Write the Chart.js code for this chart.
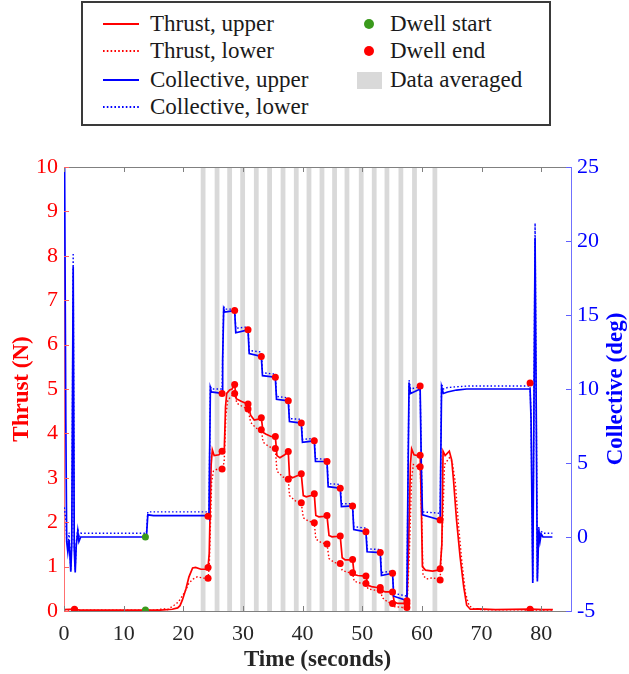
<!DOCTYPE html>
<html><head><meta charset="utf-8">
<script src="https://cdn.jsdelivr.net/npm/chart.js@4/dist/chart.umd.min.js"></script>
<style>
html,body{margin:0;padding:0;background:#fff;}
#wrap{position:relative;width:629px;height:674px;overflow:hidden;}
#c{position:absolute;left:0;top:0;}
#legend{position:absolute;left:81px;top:1px;width:470px;height:125px;box-sizing:border-box;border:2px solid #3a3a3a;background:#fff;font-family:'Liberation Serif','Times New Roman',serif;font-size:23px;color:#1a1a1a;}
.tx{position:absolute;line-height:26px;white-space:nowrap;}
.sw{position:absolute;}
</style></head>
<body>
<div id="wrap">
<canvas id="c" width="629" height="674"></canvas>
<div id="legend"></div>
</div>
<script>
// ---------------- DATA ----------------
const xTicks = [0,10,20,30,40,50,60,70,80];
const thrustTicks = [0,1,2,3,4,5,6,7,8,9,10];
const collTicks = [-5,0,5,10,15,20,25];

// [time (s), thrust (N)]
const thrustUpper = [[0,0.03],[1.76,0.04],[2.6,0.02],[16.14,0.02],[18.15,0.04],[19.05,0.07],[19.45,0.12],[19.85,0.25],[20.45,0.5],[20.95,0.77],[21.56,0.97],[22.06,0.98],[22.96,0.94],[24.06,0.94],[24.15,0.98],[24.35,1.3],[24.67,3.3],[24.87,3.63],[25.17,3.5],[25.97,3.52],[26.5,3.6],[26.88,3.65],[27.08,4.6],[27.28,4.9],[27.78,4.98],[28.18,5.0],[28.61,5.1],[28.88,4.78],[29.78,4.72],[30.85,4.66],[31.29,4.41],[31.89,4.3],[32.59,4.32],[33.08,4.35],[33.39,4.02],[33.9,3.98],[34.7,3.93],[35.43,3.93],[35.7,3.5],[36.2,3.45],[37.0,3.52],[37.6,3.59],[37.8,3.05],[38.3,3.0],[39.2,3.05],[39.78,3.09],[40.12,2.6],[40.62,2.57],[41.42,2.6],[41.96,2.64],[42.22,2.15],[42.73,2.12],[43.53,2.13],[44.09,2.15],[44.43,1.7],[44.93,1.67],[45.74,1.68],[46.31,1.69],[46.64,1.2],[47.14,1.15],[47.85,1.15],[48.38,1.16],[48.65,0.82],[49.25,0.8],[50.05,0.79],[50.62,0.79],[50.96,0.58],[51.56,0.55],[52.46,0.53],[53.02,0.53],[53.37,0.45],[53.87,0.43],[54.57,0.43],[55.08,0.43],[55.37,0.2],[55.97,0.17],[56.87,0.17],[57.49,0.17],[57.78,1.5],[58.08,3.3],[58.28,3.65],[58.68,3.52],[59.28,3.5],[59.71,3.51],[59.89,2.5],[60.09,1.0],[60.59,0.92],[61.8,0.9],[62.7,0.92],[63.06,0.95],[63.35,1.5],[63.55,3.6],[63.9,3.5],[64.6,3.6],[65.0,3.4],[65.3,2.95],[65.81,2.05],[66.41,1.22],[67.01,0.55],[67.51,0.13],[68.11,0.04],[69.32,0.05],[72.33,0.03],[78.14,0.04],[80.36,0.03],[81.96,0.03]];

const thrustLower = [[0,0.02],[2.6,0.02],[15.1,0.02],[16.75,0.05],[17.35,0.03],[18.45,0.13],[19.15,0.2],[19.65,0.3],[20.35,0.45],[20.95,0.63],[21.66,0.72],[22.36,0.77],[23.36,0.74],[24.15,0.74],[24.35,1.0],[24.75,2.9],[25.05,3.15],[25.75,3.2],[26.5,3.2],[26.85,3.35],[27.15,4.4],[27.45,4.75],[28.15,4.85],[28.61,4.9],[28.98,4.68],[29.98,4.6],[30.85,4.55],[31.29,4.25],[32.2,4.12],[33.08,4.08],[33.39,3.8],[34.4,3.7],[35.43,3.66],[35.7,3.15],[36.7,3.02],[37.6,2.97],[37.8,2.6],[38.8,2.48],[39.78,2.44],[40.12,2.1],[41.02,2.02],[41.96,1.99],[42.22,1.62],[43.23,1.53],[44.09,1.51],[44.43,1.18],[45.34,1.09],[46.31,1.07],[46.64,0.92],[47.54,0.87],[48.38,0.86],[48.65,0.67],[49.65,0.63],[50.62,0.62],[50.96,0.5],[52.06,0.47],[53.02,0.47],[53.37,0.3],[54.27,0.2],[55.08,0.17],[55.37,0.1],[56.77,0.08],[57.49,0.08],[57.88,1.2],[58.28,3.0],[58.58,3.3],[59.28,3.25],[59.71,3.25],[59.99,2.0],[60.19,0.8],[60.79,0.72],[61.8,0.75],[63.06,0.7],[63.49,2.0],[63.8,3.3],[64.6,3.45],[65.1,3.35],[65.6,2.9],[66.1,2.0],[66.71,1.1],[67.31,0.4],[67.91,0.12],[68.82,0.04],[70.32,0.03],[81.96,0.02]];

// [time (s), collective (deg)]
const collUpper = [[0.1,25],[0.3,8],[0.45,-0.3],[0.64,-1.0],[0.85,-0.2],[1.14,-2.35],[1.3,-0.5],[1.54,18.3],[1.72,-0.8],[1.88,-2.4],[2.05,-0.6],[2.31,0.4],[2.5,-0.3],[2.8,0],[13.65,0],[13.85,0.2],[14.05,1.5],[15,1.45],[24.15,1.45],[24.3,1.3],[24.54,10.05],[24.7,9.8],[26.5,9.7],[26.6,12],[26.77,15.4],[26.95,15.2],[28.61,15.3],[28.8,13.8],[30.85,14.0],[31.05,12.4],[33.08,12.2],[33.28,10.9],[35.43,10.8],[35.63,9.3],[37.6,9.2],[37.8,7.8],[39.78,7.7],[39.98,6.4],[41.96,6.5],[42.16,5.1],[44.09,5.1],[44.29,3.4],[46.31,3.3],[46.51,2.05],[48.38,2.1],[48.58,0.5],[50.62,0.35],[50.82,-1.0],[53.02,-1.05],[53.22,-2.6],[55.08,-2.45],[55.28,-4.0],[57.49,-4.3],[57.65,3],[57.85,10.4],[58.1,9.7],[59.71,10.0],[59.9,5],[60.1,1.5],[63.06,1.15],[63.3,10.15],[63.6,9.7],[64.3,9.8],[65.8,9.93],[67.5,10.0],[78.14,10.0],[78.3,8],[78.59,-3.1],[78.98,20.2],[79.36,-3.0],[79.6,0.5],[79.8,-0.3],[80.0,0.2],[80.3,0],[81.88,0]];

const collLower = [[0.05,2],[0.3,1.2],[0.45,-0.2],[0.64,-0.6],[0.85,0.3],[1.14,-2.2],[1.3,-0.2],[1.54,19.2],[1.72,-0.5],[1.88,-2.2],[2.05,-0.4],[2.31,0.6],[2.5,0],[2.8,0.25],[13.65,0.25],[13.85,0.4],[14.05,1.7],[24.15,1.7],[24.3,1.5],[24.54,10.25],[24.7,10.0],[26.5,10.0],[26.6,12.2],[26.77,15.6],[26.95,15.4],[28.61,15.4],[28.8,14.1],[30.85,14.2],[31.05,12.6],[33.08,12.5],[33.28,11.1],[35.43,11.0],[35.63,9.5],[37.6,9.4],[37.8,8.0],[39.78,7.95],[39.98,6.6],[41.96,6.65],[42.16,5.3],[44.09,5.25],[44.29,3.6],[46.31,3.55],[46.51,2.25],[48.38,2.25],[48.58,0.7],[50.62,0.6],[50.82,-0.8],[53.02,-0.85],[53.22,-2.4],[55.08,-2.3],[55.28,-3.8],[57.49,-4.0],[57.65,3.3],[57.85,10.6],[58.1,10.0],[59.71,10.15],[59.9,5.2],[60.1,1.7],[63.06,1.6],[63.3,10.35],[63.6,10.0],[64.3,10.1],[65.8,10.15],[67.5,10.2],[78.14,10.2],[78.3,8.2],[78.59,-2.9],[78.98,21.2],[79.36,-2.8],[79.6,0.7],[79.8,0],[80.0,0.4],[80.3,0.25],[81.88,0.25]];

// dwell markers
const dwellStartT = [13.65];
const startThrust = [0.02];
const startCollective = [0];
const dwellEndT = [1.76,24.15,26.5,28.61,30.85,33.08,35.43,37.6,39.78,41.96,44.09,46.31,48.38,50.62,53.02,55.08,57.49,59.71,63.06,78.14];
const endThrustUpper = [0.04,0.98,3.6,5.1,4.66,4.35,3.93,3.59,3.09,2.64,2.15,1.69,1.16,0.79,0.53,0.43,0.17,3.51,0.95,0.04];
const endThrustLower = [0.02,0.74,3.2,4.9,4.55,4.08,3.66,2.97,2.44,1.99,1.51,1.07,0.86,0.62,0.47,0.17,0.08,3.25,0.7,0.02];
const endCollective = [null,1.4,9.7,15.3,14.0,12.2,10.8,9.2,7.7,6.5,5.1,3.3,2.1,0.35,-1.05,-2.45,-4.3,10.2,1.15,10.4];

// averaging windows (s)
const avgStart = [22.92,25.26,27.37,29.55,31.84,34.07,36.32,38.54,40.67,42.85,44.96,47.04,49.43,51.61,53.74,56.08,58.36,61.78];
const avgEnd   = [23.72,26.06,28.17,30.35,32.64,34.87,37.12,39.34,41.47,43.65,45.76,47.84,50.23,52.41,54.54,56.88,59.16,62.58];

const legendLabels = ['Thrust, upper','Thrust, lower','Collective, upper','Collective, lower','Dwell start','Dwell end','Data averaged'];

// ---------------- STYLE ----------------
const RED='#ff0000', BLUE='#0000ff', GREEN='#3a9a1c', GRAY='#d9d9d9';
const FONT="'Liberation Serif','Times New Roman',serif";

// legend (HTML)
(function(){
  const L=document.getElementById('legend');
  const rows=[21,48,77,104];
  const sw=[{c:RED,d:''},{c:RED,d:'1.6 2.2'},{c:BLUE,d:''},{c:BLUE,d:'1.6 2.2'}];
  for(let i=0;i<4;i++){
    const s=document.createElementNS('http://www.w3.org/2000/svg','svg');
    s.setAttribute('width','36');s.setAttribute('height','6');s.setAttribute('class','sw');
    s.style.left='20px';s.style.top=(rows[i]-3)+'px';
    const ln=document.createElementNS('http://www.w3.org/2000/svg','line');
    ln.setAttribute('x1','0');ln.setAttribute('x2','36');ln.setAttribute('y1','3');ln.setAttribute('y2','3');
    ln.setAttribute('stroke',sw[i].c);ln.setAttribute('stroke-width','2');
    if(sw[i].d) ln.setAttribute('stroke-dasharray',sw[i].d);
    s.appendChild(ln);L.appendChild(s);
    const t=document.createElement('div');t.className='tx';t.textContent=legendLabels[i];
    t.style.left='67px';t.style.top=(rows[i]-13)+'px';L.appendChild(t);
  }
  const mk=[GREEN,RED];
  for(let i=0;i<3;i++){
    const el=document.createElement('div');el.className='sw';
    if(i<2){el.style.cssText='position:absolute;width:10px;height:10px;border-radius:50%;background:'+mk[i]+';left:281px;top:'+(rows[i]-5)+'px';}
    else{el.style.cssText='position:absolute;width:25px;height:17px;background:'+GRAY+';left:274px;top:'+(rows[i]-8)+'px';}
    L.appendChild(el);
    const t=document.createElement('div');t.className='tx';t.textContent=legendLabels[4+i];
    t.style.left='307px';t.style.top=(rows[i]-13)+'px';L.appendChild(t);
  }
})();

const toXY = arr => arr.map(p=>({x:p[0],y:p[1]}));
const zipXY = (t,v) => t.map((ti,i)=>({x:ti,y:v[i]}));

const decor = {
  id:'decor',
  beforeDatasetsDraw(chart){
    const {ctx, chartArea:a, scales} = chart;
    const x=scales.x, y=scales.y;
    ctx.save();
    ctx.beginPath();ctx.rect(a.left,a.top,a.width,a.height);ctx.clip();
    ctx.fillStyle=GRAY;
    const yt=y.getPixelForValue(y.max), yb=y.getPixelForValue(y.min);
    for(let i=0;i<avgStart.length;i++){
      const x1=x.getPixelForValue(avgStart[i]), x2=x.getPixelForValue(avgEnd[i]);
      ctx.fillRect(x1,yt,x2-x1,yb-yt);
    }
    ctx.restore();
  },
  afterDatasetsDraw(chart){
    const {ctx, chartArea:a, scales} = chart;
    const x=scales.x, y=scales.y, y2=scales.y2;
    ctx.save();
    ctx.lineWidth=1;
    ctx.strokeStyle='#808080';
    ctx.beginPath();ctx.moveTo(a.left,Math.round(a.top)+0.5);ctx.lineTo(a.right,Math.round(a.top)+0.5);ctx.stroke();
    const TL=5;
    ctx.beginPath();
    x.ticks.forEach(t=>{const px=Math.round(x.getPixelForValue(t.value))+0.5;
      ctx.moveTo(px,a.bottom);ctx.lineTo(px,a.bottom-TL);
      ctx.moveTo(px,a.top);ctx.lineTo(px,a.top+TL);});
    ctx.stroke();
    ctx.strokeStyle='#ff6060';
    ctx.beginPath();
    y.ticks.forEach(t=>{const py=Math.round(y.getPixelForValue(t.value))+0.5;
      ctx.moveTo(a.left,py);ctx.lineTo(a.left+TL,py);});
    ctx.stroke();
    ctx.strokeStyle='#6060ff';
    ctx.beginPath();
    y2.ticks.forEach(t=>{const py=Math.round(y2.getPixelForValue(t.value))+0.5;
      ctx.moveTo(a.right,py);ctx.lineTo(a.right-TL,py);});
    ctx.stroke();
    ctx.restore();
  },
  afterDraw(chart){
    const {ctx, chartArea:a} = chart;
    ctx.save();
    ctx.font='bold 23px '+FONT;
    ctx.textAlign='center';ctx.textBaseline='middle';
    ctx.fillStyle='#262626';
    ctx.fillText('Time (seconds)',(a.left+a.right)/2,660);
    const cy=(a.top+a.bottom)/2;
    ctx.fillStyle=RED;
    ctx.translate(22,cy);ctx.rotate(-Math.PI/2);ctx.fillText('Thrust (N)',0,0);
    ctx.setTransform(1,0,0,1,0,0);
    ctx.fillStyle=BLUE;
    ctx.translate(616,cy);ctx.rotate(-Math.PI/2);ctx.fillText('Collective (deg)',0,0);
    ctx.restore();
  }
};

const lineBase = {pointRadius:0,pointHoverRadius:0,tension:0,fill:false};
const dotBase = {showLine:false,pointRadius:3.5,pointHoverRadius:3.5,pointBorderWidth:0};

new Chart(document.getElementById('c'),{
  type:'line',
  data:{datasets:[
    Object.assign({label:'Dwell end (thrust, upper)',data:zipXY(dwellEndT,endThrustUpper),yAxisID:'y',pointBackgroundColor:RED,pointBorderColor:RED,order:0},dotBase),
    Object.assign({label:'Dwell end (thrust, lower)',data:zipXY(dwellEndT,endThrustLower),yAxisID:'y',pointBackgroundColor:RED,pointBorderColor:RED,order:0},dotBase),
    Object.assign({label:'Dwell end (collective)',data:zipXY(dwellEndT,endCollective),yAxisID:'y2',pointBackgroundColor:RED,pointBorderColor:RED,order:0},dotBase),
    Object.assign({label:'Dwell start (thrust)',data:zipXY(dwellStartT,startThrust),yAxisID:'y',pointBackgroundColor:GREEN,pointBorderColor:GREEN,order:0},dotBase),
    Object.assign({label:'Dwell start (collective)',data:zipXY(dwellStartT,startCollective),yAxisID:'y2',pointBackgroundColor:GREEN,pointBorderColor:GREEN,order:0},dotBase),
    Object.assign({label:'Collective, upper',data:toXY(collUpper),yAxisID:'y2',borderColor:BLUE,borderWidth:1.7,order:1},lineBase),
    Object.assign({label:'Collective, lower',data:toXY(collLower),yAxisID:'y2',borderColor:BLUE,borderWidth:1.4,borderDash:[1.5,2.2],order:2},lineBase),
    Object.assign({label:'Thrust, upper',data:toXY(thrustUpper),yAxisID:'y',borderColor:RED,borderWidth:1.7,order:3},lineBase),
    Object.assign({label:'Thrust, lower',data:toXY(thrustLower),yAxisID:'y',borderColor:RED,borderWidth:1.4,borderDash:[1.5,2.2],order:4},lineBase)
  ]},
  options:{
    responsive:false,animation:false,devicePixelRatio:1,
    events:[],
    layout:{padding:{top:167,left:0,right:0,bottom:0}},
    plugins:{legend:{display:false},tooltip:{enabled:false}},
    scales:{
      x:{type:'linear',min:0,max:85,
        afterBuildTicks:s=>{s.ticks=xTicks.map(v=>({value:v}));},
        afterFit:s=>{s.height=63;},
        grid:{display:false,drawTicks:false,tickLength:0},
        border:{display:true,color:'#808080',width:1},
        ticks:{color:'#262626',font:{family:FONT,size:22},padding:10,maxRotation:0,autoSkip:false}},
      y:{type:'linear',position:'left',min:0,max:10,
        afterBuildTicks:s=>{s.ticks=thrustTicks.map(v=>({value:v}));},
        afterFit:s=>{s.width=64;},
        grid:{display:false,drawTicks:false,tickLength:0},
        border:{display:true,color:'#ff7070',width:1},
        ticks:{color:RED,font:{family:FONT,size:22},padding:6,autoSkip:false}},
      y2:{type:'linear',position:'right',min:-5,max:25,
        afterBuildTicks:s=>{s.ticks=collTicks.map(v=>({value:v}));},
        afterFit:s=>{s.width=58;},
        grid:{display:false,drawTicks:false,tickLength:0},
        border:{display:true,color:'#7070ff',width:1},
        ticks:{color:BLUE,font:{family:FONT,size:22},padding:6,autoSkip:false}}
    }
  },
  plugins:[decor]
});
</script>
</body></html>
